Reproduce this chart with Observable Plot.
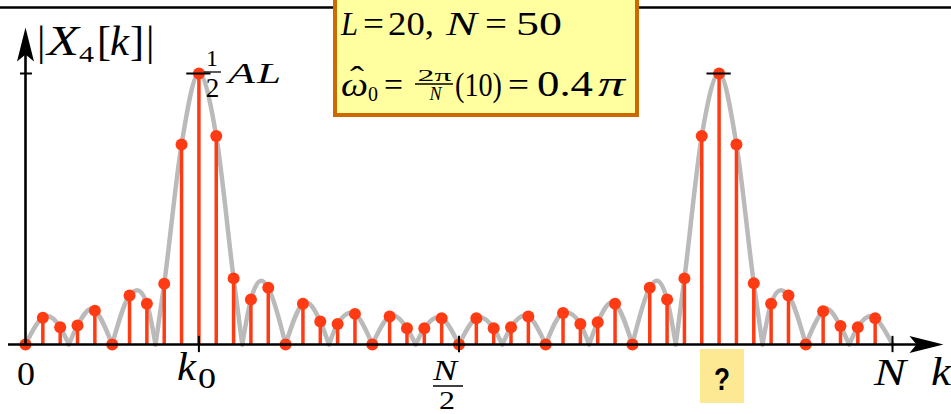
<!DOCTYPE html>
<html><head><meta charset="utf-8">
<script src="https://cdn.jsdelivr.net/npm/d3@7"></script>
<script src="https://cdn.jsdelivr.net/npm/@observablehq/plot@0.6"></script>
<style>
body{margin:0;background:#fff;}
#chart{position:relative;width:951px;height:414px;overflow:hidden;}
</style></head><body><div id="chart"></div>
<script>
// DFT index k (categories)
const kIndex = [0,1,2,3,4,5,6,7,8,9,10,11,12,13,14,15,16,17,18,19,20,21,22,23,24,
                25,26,27,28,29,30,31,32,33,34,35,36,37,38,39,40,41,42,43,44,45,46,47,48,49];
// |X4[k]| normalised to (1/2)AL = 1
const magnitude = [0,0.099,0.064,0.070,0.125,0,0.181,0.150,0.224,0.738,1.0,0.769,0.244,0.166,0.209,0,0.150,0.085,0.076,0.113,
                   0,0.103,0.060,0.060,0.097,0,0.097,0.060,0.064,0.103,0,0.116,0.076,0.082,0.150,0,0.209,0.166,0.244,0.769,
                   1.0,0.738,0.226,0.150,0.181,0,0.123,0.068,0.064,0.097];
// zeros of the continuous (DTFT) envelope, in units of k
const nullK = [0,2.5,5,7.5,12.5,15,17.5,20,22.5,25,27.5,30,32.5,35,37.5,42.5,45,47.5,50];
// side-lobe tops of the continuous envelope
const lobePeakK = [1.25,3.8,6.45,13.6,16.2,18.8,21.2,23.8,26.2,28.8,31.2,33.8,36.4,43.55,46.2,48.75];
const lobePeakV = [0.105,0.132,0.200,0.235,0.155,0.118,0.107,0.101,0.101,0.107,0.118,0.155,0.235,0.200,0.132,0.105];
// labelled ticks on the k axis and marked peaks
const tickK = [10,25,50];
const peakK = [10,40];

const stems = kIndex.map((k,i)=>({k, v: magnitude[i]}));
const envelope = [];
for (let s=0; s<nullK.length-1; s++){
  const a=nullK[s], b=nullK[s+1];
  const pts=[{k:a,v:0}];
  stems.forEach(d=>{ if(d.k>a && d.k<b) pts.push(d); });
  lobePeakK.forEach((pk,i)=>{ if(pk>a && pk<b) pts.push({k:pk,v:lobePeakV[i]}); });
  pts.push({k:b,v:0});
  pts.sort((p,q)=>p.k-q.k);
  pts.forEach(p=>envelope.push({k:p.k, v:p.v, seg:s}));
}

const arrowHead = {draw(ctx){ ctx.moveTo(0,0); ctx.lineTo(-34,-8.5); ctx.lineTo(-27,0); ctx.lineTo(-34,8.5); ctx.closePath(); }};
const RED = "#ff3b14";

const plot = Plot.plot({
  width:951, height:414, margin:0,
  x:{domain:[0,50], range:[25,892], axis:null},
  y:{domain:[0,1], range:[344,73], axis:null},
  marks:[
    Plot.ruleY([1.2435],{stroke:"black", strokeWidth:2.6}),
    Plot.line(envelope,{x:"k", y:"v", z:"seg", curve:"monotone-x", stroke:"#bababa", strokeWidth:4.5}),
    Plot.ruleX(stems,{x:"k", y1:0, y2:"v", stroke:RED, strokeWidth:3.5}),
    Plot.dot(stems,{x:"k", y:"v", r:6, fill:RED}),
    Plot.ruleY([0],{x1:-0.98, x2:52, stroke:"black", strokeWidth:2.6}),
    Plot.ruleX([0],{y1:0, y2:1.1, stroke:"black", strokeWidth:2.6}),
    Plot.dot([0],{x:52.94, y:0, symbol:arrowHead, fill:"black", stroke:null}),
    Plot.dot([0],{x:0, y:1.17, symbol:arrowHead, rotate:-90, fill:"black", stroke:null}),
    Plot.ruleX(tickK,{x:d=>d, y1:-0.03, y2:0.03, stroke:"black", strokeWidth:2}),
    Plot.ruleY(peakK,{y:1, x1:d=>d-0.7, x2:d=>d+0.7, stroke:"black", strokeWidth:2}),
    Plot.ruleY([1],{x1:-0.29, x2:0.4, stroke:"black", strokeWidth:2})
  ]
});
document.getElementById("chart").appendChild(plot);

const svg = d3.select(plot);
const SERIF = "'Liberation Serif','Times New Roman',serif";
function tok(o){
  const t = svg.append("text").attr("x",o.x).attr("y",o.y)
    .attr("font-family", o.sans ? "'Liberation Sans',Arial,sans-serif" : SERIF)
    .attr("font-size", o.size).attr("fill","black")
    .attr("text-anchor", o.anchor || "start").text(o.t);
  if (o.it) t.attr("font-style","italic");
  if (o.bold) t.attr("font-weight","bold");
  if (o.len) t.attr("textLength",o.len).attr("lengthAdjust","spacingAndGlyphs");
  return t;
}
function bar(x1,x2,y,w){ svg.append("line").attr("x1",x1).attr("x2",x2).attr("y1",y).attr("y2",y).attr("stroke","black").attr("stroke-width",w); }

// info box
svg.append("rect").attr("x",335).attr("y",-4).attr("width",302).attr("height",119)
  .attr("fill","#ffffa0").attr("stroke","#cc6a00").attr("stroke-width",4);
tok({t:"L",x:341,y:35,size:33,it:true,len:17});
tok({t:"=",x:363,y:35,size:33,len:21});
tok({t:"20,",x:388,y:35,size:34,len:46});
tok({t:"N",x:446,y:35,size:33,it:true,len:31});
tok({t:"=",x:485,y:35,size:33,len:22});
tok({t:"50",x:516,y:35,size:34,len:46});
tok({t:"ω",x:341,y:96,size:34,it:true,len:27});
tok({t:"ˆ",x:350,y:90,size:33,len:14});
tok({t:"0",x:368,y:101,size:20});
tok({t:"=",x:384,y:96,size:33,len:19});
tok({t:"2π",x:434.5,y:81,size:17,anchor:"middle",len:34});
bar(415,453,84,1.3);
tok({t:"N",x:435.5,y:100,size:18,it:true,anchor:"middle"});
tok({t:"(10)",x:455,y:96,size:34,len:47});
tok({t:"=",x:508,y:96,size:33,len:21});
tok({t:"0.4",x:537,y:96,size:35,len:56});
tok({t:"π",x:598,y:96,size:35,it:true,len:27});

// y label |X4[k]|
tok({t:"|",x:37,y:55,size:42});
tok({t:"X",x:47,y:55,size:42,it:true,len:32});
tok({t:"4",x:79,y:62,size:24,len:15});
tok({t:"[",x:97,y:55,size:42});
tok({t:"k",x:110,y:55,size:42,it:true,len:19});
tok({t:"]",x:130,y:55,size:42});
tok({t:"|",x:146,y:55,size:42});

// 1/2 AL
tok({t:"1",x:212,y:66,size:24,anchor:"middle"});
bar(204,221,72,1.3);
tok({t:"2",x:212.5,y:97,size:27,anchor:"middle"});
tok({t:"A",x:228,y:83,size:29,it:true,len:27});
tok({t:"L",x:257,y:83,size:29,it:true,len:24});

// axis labels
tok({t:"0",x:26,y:385,size:34,anchor:"middle",len:18});
tok({t:"k",x:177,y:380,size:39,it:true,len:19});
tok({t:"0",x:198,y:388,size:30,len:18});
tok({t:"N",x:445,y:380,size:30,it:true,anchor:"middle",len:24});
bar(433,463,386,1.5);
tok({t:"2",x:447,y:409,size:26,anchor:"middle",len:16});
tok({t:"N",x:874,y:385,size:37,it:true,len:32});
tok({t:"k",x:931,y:385,size:39,it:true,len:20});

// question box
svg.append("rect").attr("x",700).attr("y",349).attr("width",44).attr("height",54).attr("fill","#fde994");
tok({t:"?",x:722,y:390,size:32,sans:true,bold:true,anchor:"middle",len:16});
</script></body></html>
